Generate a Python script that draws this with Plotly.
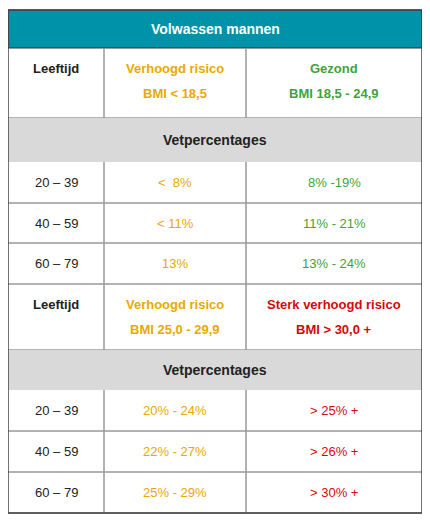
import plotly.graph_objects as go

# table content
title = "Volwassen mannen"
col_edges = [8, 104, 246, 422]
orange = "#E9A900"
green = "#3FA33A"
red = "#D20A0A"
black = "#222222"

# each row: (kind, top, bottom, cells)
rows = [
    ("head", 48, 118, [(["Leeftijd"], black), (["Verhoogd risico", "BMI < 18,5"], orange),
                        (["Gezond", "BMI 18,5 - 24,9"], green)]),
    ("gray", 118, 162, "Vetpercentages"),
    ("data", 162, 203, [("20 – 39", black), ("<  8%", orange), ("8% -19%", green)]),
    ("data", 203, 243, [("40 – 59", black), ("< 11%", orange), ("11% - 21%", green)]),
    ("data", 243, 284, [("60 – 79", black), ("13%", orange), ("13% - 24%", green)]),
    ("head", 284, 350, [(["Leeftijd"], black), (["Verhoogd risico", "BMI 25,0 - 29,9"], orange),
                         (["Sterk verhoogd risico", "BMI > 30,0 +"], red)]),
    ("gray", 350, 390, "Vetpercentages"),
    ("data", 390, 431, [("20 – 39", black), ("20% - 24%", orange), ("> 25% +", red)]),
    ("data", 431, 472, [("40 – 59", black), ("22% - 27%", orange), ("> 26% +", red)]),
    ("data", 472, 513, [("60 – 79", black), ("25% - 29%", orange), ("> 30% +", red)]),
]

fig = go.Figure()
shapes = []
ann = []
line_c = "#666666"
L, R = col_edges[0], col_edges[-1]

# title bar
shapes.append(dict(type="rect", x0=L, x1=R, y0=10, y1=48, fillcolor="#0092A8", line=dict(color="#333", width=1)))
ann.append(dict(x=(L + R) / 2, y=29, text="<b>" + title + "</b>", font=dict(color="white", size=14)))

for kind, top, bot, cells in rows:
    if kind == "gray":
        shapes.append(dict(type="rect", x0=L, x1=R, y0=top, y1=bot, fillcolor="#D9D9D9", line=dict(width=0)))
        ann.append(dict(x=(L + R) / 2, y=(top + bot) / 2, text="<b>" + cells + "</b>", font=dict(color=black, size=14)))
        continue
    shapes.append(dict(type="line", x0=L, x1=R, y0=bot, y1=bot, line=dict(color=line_c, width=1)))
    for ci, cell in enumerate(cells):
        x0, x1 = col_edges[ci], col_edges[ci + 1]
        if ci > 0:
            shapes.append(dict(type="line", x0=x0, x1=x0, y0=top, y1=bot, line=dict(color="#999", width=1.5)))
        xc = (x0 + x1) / 2
        if kind == "head":
            lines, color = cell
            for li, t in enumerate(lines):
                ann.append(dict(x=xc, y=top + 20 + li * 25, text="<b>" + t + "</b>", font=dict(color=color, size=13)))
        else:
            t, color = cell
            ann.append(dict(x=xc, y=(top + bot) / 2, text=t, font=dict(color=color, size=13)))

# outer border
shapes.append(dict(type="rect", x0=L, x1=R, y0=10, y1=513, line=dict(color="#444", width=1.5)))

for a in ann:
    a.update(xref="x", yref="y", showarrow=False)
    a["font"]["family"] = "Liberation Sans, Arial"

# page body has an 8px margin, so shift the axis window by the same amount
fig.update_layout(
    width=430, height=523, margin=dict(l=0, r=0, t=0, b=0),
    paper_bgcolor="white", plot_bgcolor="white",
    xaxis=dict(range=[8, 438], visible=False, fixedrange=True),
    yaxis=dict(range=[531, 8], visible=False, fixedrange=True),
    shapes=shapes, annotations=ann, showlegend=False,
)
fig.write_html("out.html")
